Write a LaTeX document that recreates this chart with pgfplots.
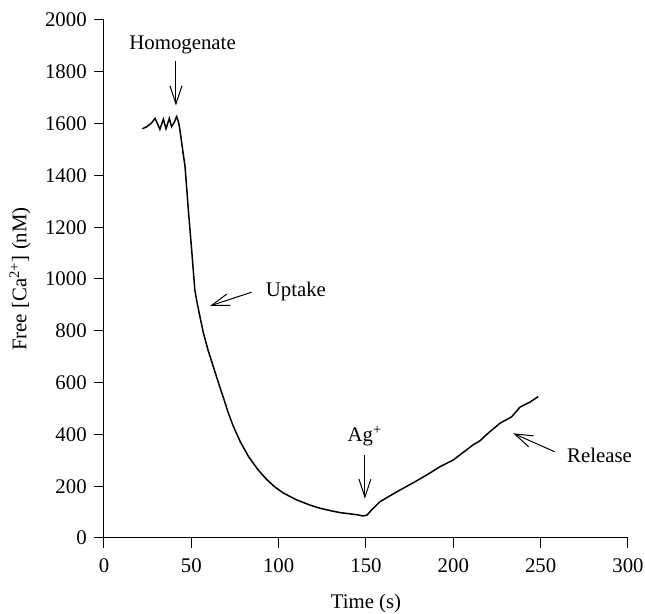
\documentclass[border=0pt]{standalone}
\usepackage{fontspec}
\setmainfont{Liberation Serif}
\usepackage{pgfplots}
\pgfplotsset{compat=1.18}
\usetikzlibrary{arrows.meta}
\begin{document}
\fontsize{10.4}{12.5}\selectfont
\begin{tikzpicture}
\begin{axis}[
  at={(0,0)}, anchor=south west,
  scale only axis, width=262pt, height=259pt,
  xmin=0, xmax=300, ymin=0, ymax=2000,
  axis x line*=bottom, axis y line*=left,
  axis line style={-, line width=0.5pt},
  xtick={0,50,...,300}, ytick={0,200,...,2000},
  tick align=outside, major tick length=5pt,
  tick style={black, line width=0.5pt},
  xticklabel style={yshift=-1.5pt},
  /pgf/number format/assume math mode=true,
  /pgf/number format/1000 sep={},
  xlabel={Time (s)},
  xlabel style={yshift=-3.5pt},
  ylabel={Free [Ca\textsuperscript{2+}] (nM)},
  clip=false,
]
\addplot[black, line width=0.75pt, mark=none] coordinates {
(22,1580) (24.5,1588) (27.3,1603) (29.2,1620) (30.6,1600) (32,1578)
(34,1617) (35.5,1580) (37.4,1620) (38.7,1588) (40.2,1605) (41.6,1627)
(42.4,1612) (43.2,1588) (44.8,1510) (46.4,1434) (48.3,1266) (50.2,1112)
(52,958) (53,919) (55,852) (56.8,795) (59.5,727) (62.6,661) (65.5,600)
(68.3,543) (71,486) (74,432) (78,372) (82.6,316) (88,265) (93.1,226)
(98,196) (102.6,174) (110,148) (117.9,127) (123.6,115) (130,105)
(135.1,98) (140,94) (145.6,89) (148,85) (150.5,88) (153.2,108)
(158,140) (163,160) (169.4,185) (177,213) (184.7,243) (192.3,275)
(199.9,301) (205,327) (211.4,360) (215.2,375) (220,405) (226.7,443)
(233.4,468) (236,488) (238.1,505) (241,515) (244,525) (248.6,546)
};
% annotations
\node at (axis cs:45,1903) {Homogenate};
\draw[line width=0.5pt, -{Straight Barb[length=9pt,width=6pt]}] (axis cs:41.2,1840) -- (axis cs:41.2,1670);
\node[anchor=west] at (axis cs:88.5,951) {Uptake};
\draw[line width=0.5pt, -{Straight Barb[length=9pt,width=6pt]}] (axis cs:84.5,949) -- (axis cs:60.7,896);
\node at (axis cs:149.4,392) {Ag\textsuperscript{+}};
\draw[line width=0.5pt, -{Straight Barb[length=9pt,width=6pt]}] (axis cs:149.4,322) -- (axis cs:149.4,152);
\node[anchor=west] at (axis cs:261,317) {Release};
\draw[line width=0.5pt, -{Straight Barb[length=9pt,width=6pt]}] (axis cs:258,333) -- (axis cs:234.3,404);
\end{axis}
\pgfresetboundingbox
\path[use as bounding box] (-52pt,-38pt) rectangle (270.5pt,269pt);
\end{tikzpicture}
\end{document}
